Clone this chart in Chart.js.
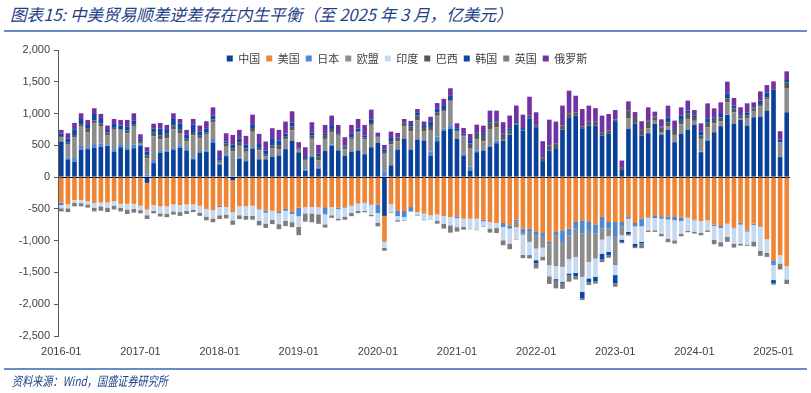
<!DOCTYPE html>
<html>
<head>
<meta charset="utf-8">
<script src="https://cdn.jsdelivr.net/npm/chart.js@4.4.1/dist/chart.umd.min.js"></script>
<style>
  body { margin: 0; background: #fff; }
  #wrap { position: relative; width: 811px; height: 393px; overflow: hidden; }
  #title { position: absolute; left: 10px; top: 2px; font: italic 16.6px "Noto Sans CJK SC"; color: #1f4288; white-space: nowrap; }
  .rule { position: absolute; left: 4px; width: 803px; height: 2px; background: #6a8cc4; }
  #src { position: absolute; left: 12px; top: 371px; font: italic 13px "Noto Sans CJK SC"; color: #1f4288; white-space: nowrap; transform: scaleX(0.78); transform-origin: left center; }
  canvas { position: absolute; left: 0; top: 0; }
</style>
</head>
<body>
<div id="wrap">
  <div id="title">图表15: 中美贸易顺差逆差存在内生平衡（至 2025 年 3 月，亿美元）</div>
  <div class="rule" style="top:30px"></div>
  <canvas id="chart" width="811" height="393"></canvas>
  <div class="rule" style="top:368px"></div>
  <div id="src">资料来源：Wind，国盛证券研究所</div>
</div>
<script>
// months 2016-01 .. 2025-03
const months = [];
for (let y = 2016; y <= 2025; y++) {
  for (let m = 1; m <= 12; m++) {
    if (y === 2025 && m > 3) break;
    months.push(y + '-' + String(m).padStart(2, '0'));
  }
}
const yearTicks = ['2016-01', '2017-01', '2018-01', '2019-01', '2020-01', '2021-01', '2022-01', '2023-01', '2024-01', '2025-01'];

// 亿美元, one row per year
const china = [
  560, 280, 240, 430, 440, 460, 480, 490, 400, 470, 430, 455,
  497, -90, 220, 380, 400, 430, 460, 420, 280, 380, 400, 540,
  200, 330, -50, 290, 250, 450, 280, 280, 320, 340, 440, 570,
  390, 100, 315, 135, 410, 490, 420, 340, 395, 420, 360, 470,
  540, -610, 185, 434, 600, 434, 591, 575, 340, 565, 732, 758,
  601, 340, 105, 392, 418, 481, 533, 575, 669, 826, 732, 925,
  784, 251, 418, 455, 748, 931, 968, 769, 811, 811, 654, 680,
  880, 115, 758, 840, 654, 690, 837, 669, 743, 549, 680, 743,
  826, 392, 575, 706, 800, 978, 837, 900, 811, 941, 952, 1046,
  1375, 314, 1020
];
const usa = [
  -400, -430, -360, -360, -380, -410, -400, -400, -380, -420, -420, -420,
  -450, -420, -440, -460, -460, -430, -440, -430, -430, -450, -500, -520,
  -450, -470, -500, -460, -460, -450, -500, -530, -530, -550, -500, -549,
  -481, -471, -471, -475, -486, -471, -481, -471, -445, -418, -392, -429,
  -429, -408, -429, -523, -533, -471, -549, -575, -601, -586, -612, -628,
  -617, -654, -654, -654, -669, -706, -722, -722, -758, -669, -810, -810,
  -863, -880, -1020, -863, -837, -810, -706, -680, -706, -743, -617, -706,
  -706, -706, -617, -722, -654, -638, -601, -628, -617, -628, -638, -638,
  -669, -690, -680, -748, -769, -732, -795, -717, -837, -732, -774, -978,
  -1307, -1229, -1401
];
const japan = [
  -40, 30, 60, 60, 30, 60, 50, 10, 40, 50, 30, 60,
  20, 40, 50, 30, 20, 30, 40, 20, 30, 30, 20, 60,
  -20, 20, 30, 20, 0, 20, -10, -30, 10, -20, -30, -30,
  -136, 20, 20, 20, -100, 20, -20, -10, -10, 0, -10, -10,
  -136, 90, 0, -89, -94, -63, 0, 20, 60, 70, 30, 60,
  -30, 30, 63, 30, -26, 10, 40, -63, -52, -30, -78, -52,
  -52, -60, -37, -52, -183, -105, -105, -209, -141, -146, -194, -105,
  -235, -68, -37, -52, -120, 0, -42, -26, -50, -52, -52, 0,
  -10, 10, 20, -20, -30, 10, -10, -30, -20, -20, -10, 10,
  -78, 0, 0
];
const eu = [
  63, 210, 323, 304, 230, 333, 274, 161, 305, 210, 230, 279,
  20, 260, 370, 182, 191, 294, 185, 123, 345, 201, 249, 268,
  29, 140, 374, 183, 149, 243, 140, 50, 119, 103, 154, 166,
  40, 150, 268, 112, 191, 198, 231, 98, 206, 285, 231, 352,
  80, 277, 331, 130, 205, 290, 300, 120, 330, 330, 270, 370,
  117, 274, 290, 174, 142, 265, 213, 10, 10, -89, -20, -157,
  -209, -170, -330, -486, -392, -376, -445, -680, -486, -392, -173, -120,
  -444, -141, 170, 0, 0, 80, 50, 40, 60, 115, 150, 173,
  60, 200, 190, 140, 80, 190, 183, 30, 120, 100, 160, 170,
  0, 235, 382
];
const india = [
  -50, -60, -40, -50, -50, -70, -60, -80, -70, -60, -90, -80,
  -70, -90, -90, -110, -120, -110, -110, -100, -80, -110, -120, -130,
  -130, -120, -130, -140, -150, -160, -180, -170, -140, -170, -160, -130,
  -167, -100, -100, -110, -157, -130, -150, -140, -110, -110, -131, -157,
  -157, -94, -120, -68, -53, -5, -52, -94, -53, -105, -120, -131,
  -141, -131, -157, -172, -78, -105, -80, -209, -235, -183, -314, -209,
  -183, -140, -173, -204, -235, -225, -251, -235, -261, -288, -220, -246,
  -157, -68, -209, -272, -246, -200, -193, -235, -300, -314, -199, -209,
  -178, -188, -157, -220, -225, -209, -240, -300, -205, -261, -377, -214,
  -235, -131, -209
];
const brazil = [
  10, 30, 40, 40, 60, 40, 40, 40, 30, 20, 40, 40,
  30, 40, 60, 60, 70, 60, 60, 40, 40, 40, 30, 40,
  30, 40, 50, 50, 50, 60, 40, 30, 50, 60, 40, 60,
  20, 30, 50, 60, 60, 50, 20, 40, 20, 10, 30, 30,
  10, 30, 50, 60, 50, 70, 80, 60, 60, 50, 40, 20,
  10, 10, 70, 100, 90, 100, 70, 80, 50, 20, 10, 40,
  25, 55, 78, 78, 63, 73, 52, 31, 68, 60, 52, 52,
  25, 31, 118, 105, 89, 104, 55, 75, 60, 78, 70, 89,
  60, 52, 70, 70, 60, 60, 60, 40, 40, 40, 39, 29,
  0, 0, 89
];
const korea = [
  50, 60, 90, 80, 60, 100, 70, 40, 60, 60, 70, 60,
  30, 60, 60, 110, 60, 100, 100, 70, 130, 70, 60, 60,
  40, 30, 60, 60, 60, 60, 60, 60, 100, 70, 50, 60,
  10, 30, 50, 40, 20, 60, 20, 20, 60, 50, 30, 50,
  10, 40, 50, -10, 0, 40, 40, 30, 80, 60, 60, 70,
  40, 30, 40, 0, 30, 40, 20, 20, 40, 20, 30, -10,
  -50, 10, 5, -25, -16, -25, -52, -105, -63, -68, -94, -52,
  -131, -37, -37, -52, -21, 11, 10, 10, 78, 16, 70, 42,
  21, 61, 70, 25, 53, 80, 45, 24, 49, 17, 52, 78,
  -52, 42, 37
];
const uk = [
  -50, -60, -60, -50, -50, -60, -70, -70, -60, -60, -70, -60,
  -50, -60, -40, -50, -50, -50, -60, -50, -40, -50, -60, -60,
  -60, -60, -70, -60, -60, -60, -70, -70, -70, -80, -80, -80,
  -130, -130, -140, -150, -50, -40, -30, -50, -50, -40, -20, -20,
  -52, -47, -10, -10, -10, -10, -10, -10, -10, -42, -78, -115,
  -68, -42, -10, -10, -10, -63, -78, -78, -89, -10, -52, -42,
  -80, -60, -120, -120, -94, -105, -52, -26, -40, -40, -40, -40,
  -52, -20, -20, -20, -78, -25, -26, -42, -57, -52, -42, -20,
  -31, -37, -26, -68, -68, -78, -63, -30, -20, -78, -78, -63,
  -20, -94, -73
];
const russia = [
  60, 80, 100, 90, 80, 90, 80, 70, 80, 90, 100, 110,
  77, 70, 80, 90, 80, 90, 70, 70, 90, 90, 120, 130,
  120, 130, 150, 140, 140, 150, 160, 140, 170, 170, 190, 180,
  90, 140, 160, 140, 140, 150, 130, 130, 140, 150, 170, 160,
  60, 70, 100, 70, 60, 50, 60, 70, 80, 90, 100, 120,
  80, 90, 110, 130, 130, 150, 170, 180, 200, 260, 210, 300,
  211, 250, 403, 340, 314, 356, 261, 272, 246, 214, 261, 261,
  150, 115, 146, 78, 136, 213, 78, 115, 183, 131, 128, 157,
  89, 131, 235, 141, 183, 183, 120, 105, 141, 78, 146, 115,
  131, 131, 136
];

const seriesNames = ['中国', '美国', '日本', '欧盟', '印度', '巴西', '韩国', '英国', '俄罗斯'];
const seriesData = [china, usa, japan, eu, india, brazil, korea, uk, russia];
const seriesColors = ['#08409a', '#ef8535', '#4f87d0', '#8c8c8c', '#c6d9f1', '#575757', '#0b47a8', '#7c7c7c', '#7332a3'];

// move the legend down into the plot, like the original
const legendInside = {
  id: 'legendInside',
  afterLayout(chart) {
    const lg = chart.legend;
    const dy = chart.chartArea.top - 3 - lg.top;
    lg.top += dy;
    lg.bottom += dy;
    lg.left += 12;
    lg.right += 12;
  }
};

new Chart(document.getElementById('chart'), {
  type: 'bar',
  data: {
    labels: months,
    datasets: seriesNames.map((name, i) => ({
      label: name,
      data: seriesData[i],
      backgroundColor: seriesColors[i],
      borderWidth: 0
    }))
  },
  options: {
    responsive: false,
    animation: false,
    devicePixelRatio: 1,
    layout: { padding: { top: 23, right: 21, bottom: 27, left: 0 } },
    datasets: { bar: { barPercentage: 0.7, categoryPercentage: 1 } },
    plugins: {
      legend: {
        position: 'top',
        align: 'center',
        labels: {
          boxWidth: 6,
          boxHeight: 6,
          padding: 6,
          color: '#404040',
          font: { family: '"Noto Sans CJK SC"', size: 11 }
        }
      },
      tooltip: { enabled: false }
    },
    scales: {
      x: {
        stacked: true,
        grid: { display: false, drawTicks: false },
        border: { display: false },
        afterFit: s => { s.height = 30; },
        ticks: {
          autoSkip: false,
          maxRotation: 0,
          padding: 9,
          color: '#404040',
          font: { family: '"Liberation Sans"', size: 11 },
          callback: function (v, i) {
            const lab = months[i];
            return yearTicks.includes(lab) ? lab : '';
          }
        }
      },
      y: {
        stacked: true,
        z: 1,
        min: -2500,
        max: 2000,
        afterFit: s => { s.width = 58; },
        border: { display: true, color: '#595959', width: 1 },
        grid: {
          color: c => (c.tick && c.tick.value === 0 ? '#000000' : 'rgba(0,0,0,0)'),
          tickColor: '#595959',
          tickLength: 4,
          lineWidth: 1
        },
        ticks: {
          stepSize: 500,
          padding: 4,
          color: '#404040',
          font: { family: '"Liberation Sans"', size: 11 },
          callback: v => v.toLocaleString('en-US')
        }
      }
    }
  },
  plugins: [legendInside]
});
</script>
</body>
</html>
